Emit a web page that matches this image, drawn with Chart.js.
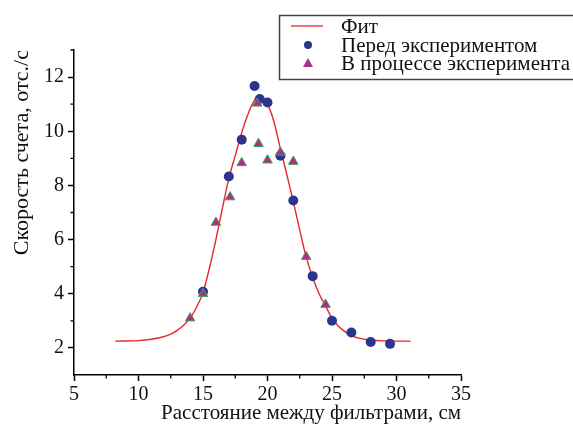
<!DOCTYPE html>
<html>
<head>
<meta charset="utf-8">
<script src="https://cdn.jsdelivr.net/npm/chart.js@4"></script>
<style>
  html, body { margin: 0; padding: 0; background: #fff; }
  #wrap { width: 573px; height: 427px; }
</style>
</head>
<body>
<div id="wrap"><canvas id="chart" width="573" height="427"></canvas></div>
<script>
// Fit curve
const fitX = [8.2, 10, 11, 12, 12.5, 13, 13.5, 14, 14.5, 15, 15.5, 16, 16.5, 17, 17.5, 18, 18.5, 19, 19.3, 19.6, 20, 20.5, 21, 21.5, 22, 22.5, 23, 23.5, 24, 24.5, 25, 25.5, 26, 26.5, 27, 28, 29, 31.1];
const fitY = [2.25, 2.27, 2.32, 2.42, 2.51, 2.65, 2.84, 3.1, 3.5, 4.05, 4.95, 6.0, 7.15, 8.25, 9.1, 9.95, 10.65, 11.15, 11.27, 11.22, 11.0, 10.35, 9.35, 8.4, 7.4, 6.35, 5.35, 4.6, 4.0, 3.55, 3.1, 2.8, 2.6, 2.45, 2.37, 2.29, 2.26, 2.25];

// "Перед экспериментом" (circles)
const beforeX = [15, 17, 18, 19, 19.4, 20, 21, 22, 23.5, 25, 26.5, 28, 29.5];
const beforeY = [4.07, 8.33, 9.69, 11.67, 11.19, 11.06, 9.1, 7.44, 4.65, 3.0, 2.57, 2.22, 2.15];

// "В процессе эксперимента" (triangles)
const duringX = [14, 15, 16, 17.1, 18, 19.2, 19.3, 20, 21, 22, 23, 24.5];
const duringY = [3.1, 4.0, 6.63, 7.57, 8.83, 11.03, 9.54, 8.93, 9.22, 8.88, 5.37, 3.6];

const xTicks = [5, 10, 15, 20, 25, 30, 35];
const xMinor = [7.5, 12.5, 17.5, 22.5, 27.5, 32.5];
const yTicks = [2, 4, 6, 8, 10, 12];
const yMinor = [3, 5, 7, 9, 11, 13];

const legendLabels = ['Фит', 'Перед экспериментом', 'В процессе эксперимента'];

const serif = "'Liberation Serif', 'Times New Roman', serif";
const toPoints = (xs, ys) => xs.map((x, i) => ({ x: x, y: ys[i] }));

// small minor tick marks on both axes
const minorTicks = {
  id: 'minorTicks',
  afterDraw(chart) {
    const ctx = chart.ctx;
    const xs = chart.scales.x, ys = chart.scales.y;
    const area = chart.chartArea;
    ctx.save();
    ctx.strokeStyle = '#000';
    ctx.lineWidth = 1.3;
    ctx.beginPath();
    xMinor.forEach(v => {
      const px = xs.getPixelForValue(v);
      ctx.moveTo(px, area.bottom);
      ctx.lineTo(px, area.bottom + 3.5);
    });
    yMinor.forEach(v => {
      const py = ys.getPixelForValue(v);
      ctx.moveTo(area.left, py);
      ctx.lineTo(area.left - 3.5, py);
    });
    ctx.stroke();
    ctx.restore();
  }
};

// boxed legend in the top right corner
const boxLegend = {
  id: 'boxLegend',
  afterDraw(chart) {
    const ctx = chart.ctx;
    const ds = chart.data.datasets;
    ctx.save();
    ctx.strokeStyle = '#444';
    ctx.lineWidth = 1.5;
    ctx.strokeRect(279.5, 15.5, 320, 64);

    const rows = [26, 45, 63];
    // line sample
    ctx.strokeStyle = ds[0].borderColor;
    ctx.lineWidth = 1.3;
    ctx.beginPath();
    ctx.moveTo(291, rows[0]);
    ctx.lineTo(323, rows[0]);
    ctx.stroke();
    // circle sample
    ctx.fillStyle = ds[1].backgroundColor;
    ctx.beginPath();
    ctx.arc(308, rows[1], 4, 0, Math.PI * 2);
    ctx.fill();
    // triangle sample
    ctx.fillStyle = ds[2].backgroundColor;
    ctx.beginPath();
    ctx.moveTo(308, rows[2] - 5);
    ctx.lineTo(313, rows[2] + 4);
    ctx.lineTo(303, rows[2] + 4);
    ctx.closePath();
    ctx.fill();

    ctx.fillStyle = '#111';
    ctx.font = '21px ' + serif;
    ctx.textBaseline = 'middle';
    ctx.textAlign = 'left';
    legendLabels.forEach((t, i) => ctx.fillText(t, 341, rows[i] + 1));
    ctx.restore();
  }
};

const ctx = document.getElementById('chart').getContext('2d');
const chart = new Chart(ctx, {
  type: 'scatter',
  data: {
    datasets: [
      {
        label: legendLabels[0],
        type: 'line',
        data: toPoints(fitX, fitY),
        borderColor: '#e8262b',
        borderWidth: 1.4,
        pointRadius: 0,
        fill: false,
        cubicInterpolationMode: 'monotone',
        order: 3
      },
      {
        label: legendLabels[1],
        data: toPoints(beforeX, beforeY),
        backgroundColor: '#2b3590',
        borderColor: '#2b3590',
        borderWidth: 0,
        pointRadius: 5,
        order: 2
      },
      {
        label: legendLabels[2],
        data: toPoints(duringX, duringY),
        pointStyle: 'triangle',
        backgroundColor: '#b32a8c',
        borderColor: '#35a852',
        borderWidth: 1,
        pointRadius: 5.5,
        order: 1
      }
    ]
  },
  options: {
    responsive: false,
    animation: false,
    events: [],
    layout: { padding: { left: 0, top: 50, right: 112, bottom: 0 } },
    plugins: {
      legend: { display: false },
      tooltip: { enabled: false }
    },
    scales: {
      x: {
        type: 'linear',
        min: 5,
        max: 35,
        afterBuildTicks: s => { s.ticks = xTicks.map(v => ({ value: v })); },
        afterFit: s => { s.height = 52; },
        border: { color: '#000', width: 1.5 },
        grid: { drawOnChartArea: false, tickLength: 6, tickColor: '#000', tickWidth: 1.5 },
        ticks: { color: '#111', padding: 2, font: { family: serif, size: 20 }, maxRotation: 0 },
        title: {
          display: true,
          text: 'Расстояние между фильтрами, см',
          align: 'end',
          color: '#111',
          font: { family: serif, size: 21 },
          padding: { top: 0, bottom: 1 }
        }
      },
      y: {
        type: 'linear',
        min: 1,
        max: 13,
        afterBuildTicks: s => { s.ticks = yTicks.map(v => ({ value: v })); },
        afterFit: s => { s.width = 74; },
        border: { color: '#000', width: 1.5 },
        grid: { drawOnChartArea: false, tickLength: 6, tickColor: '#000', tickWidth: 1.5 },
        ticks: { color: '#111', padding: 4, font: { family: serif, size: 20 } },
        title: {
          display: true,
          text: 'Скорость счета, отс./с',
          align: 'end',
          color: '#111',
          font: { family: serif, size: 22 },
          padding: { top: 9, bottom: 0 }
        }
      }
    }
  },
  plugins: [minorTicks, boxLegend]
});
</script>
</body>
</html>
